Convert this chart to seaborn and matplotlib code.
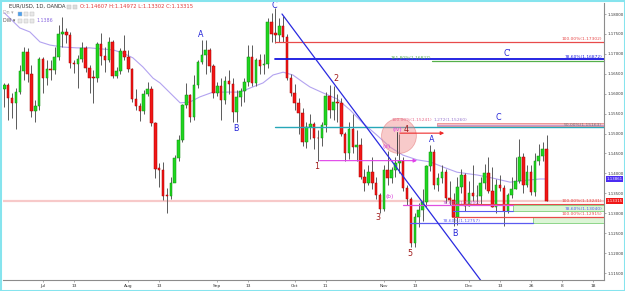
import numpy as np
import pandas as pd
import matplotlib
matplotlib.use("Agg")
import matplotlib.pyplot as plt
import matplotlib.transforms as mtransforms
from matplotlib.patches import Ellipse, Rectangle
import seaborn as sns

# ---------------- data (EUR/USD daily) ----------------
opens = [
    1.1612, 1.1622, 1.1589, 1.1577, 1.1604, 1.1657, 1.1705, 1.1649, 1.1556, 1.1569,
    1.1687, 1.1639, 1.1662, 1.1659, 1.1692, 1.1750, 1.1755, 1.1747, 1.1677, 1.1675,
    1.1687, 1.1715, 1.1664, 1.1641, 1.1639, 1.1725, 1.1695, 1.1685, 1.1730, 1.1644,
    1.1657, 1.1707, 1.1692, 1.1662, 1.1587, 1.1569, 1.1557, 1.1599, 1.1612, 1.1526,
    1.1413, 1.1408, 1.1346, 1.1343, 1.1376, 1.1439, 1.1484, 1.1572, 1.1597, 1.1541,
    1.1622, 1.1680, 1.1697, 1.1710, 1.1669, 1.1602, 1.1619, 1.1584, 1.1632, 1.1625,
    1.1554, 1.1592, 1.1607, 1.1630, 1.1692, 1.1627, 1.1685, 1.1672, 1.1675, 1.1780,
    1.1752, 1.1748, 1.1770, 1.1742, 1.1639, 1.1602, 1.1577, 1.1552, 1.1479, 1.1516,
    1.1524, 1.1490, 1.1488, 1.1521, 1.1594, 1.1560, 1.1580, 1.1576, 1.1500, 1.1451,
    1.1512, 1.1467, 1.1471, 1.1391, 1.1376, 1.1403, 1.1376, 1.1345, 1.1311, 1.1408,
    1.1388, 1.1408, 1.1426, 1.1432, 1.1363, 1.1336, 1.1225, 1.1290, 1.1308, 1.1328,
    1.1418, 1.1454, 1.1371, 1.1388, 1.1403, 1.1338, 1.1334, 1.1291, 1.1366, 1.1396,
    1.1319, 1.1352, 1.1343, 1.1344, 1.1375, 1.1402, 1.1356, 1.1316, 1.1370, 1.1363,
    1.1306, 1.1345, 1.1362, 1.1380, 1.1441, 1.1371, 1.1404, 1.1353, 1.1430, 1.1443,
    1.14607]
highs = [
    1.1627, 1.1627, 1.1602, 1.1614, 1.1672, 1.1717, 1.1715, 1.1672, 1.1584, 1.1692,
    1.1692, 1.1685, 1.1685, 1.1717, 1.1772, 1.1792, 1.1765, 1.1755, 1.1685, 1.1697,
    1.1730, 1.1720, 1.1672, 1.1659, 1.1730, 1.1752, 1.1717, 1.1742, 1.1735, 1.1667,
    1.1715, 1.1747, 1.1710, 1.1665, 1.1612, 1.1577, 1.1609, 1.1629, 1.1619, 1.1530,
    1.1426, 1.1428, 1.1363, 1.1391, 1.1446, 1.1496, 1.1575, 1.1627, 1.1600, 1.1647,
    1.1685, 1.1735, 1.1735, 1.1715, 1.1675, 1.1630, 1.1639, 1.1645, 1.1659, 1.1640,
    1.1610, 1.1615, 1.1640, 1.1722, 1.1722, 1.1690, 1.1700, 1.1700, 1.1790, 1.1803,
    1.1815, 1.1790, 1.1795, 1.1750, 1.1650, 1.1625, 1.1590, 1.1565, 1.1530, 1.1550,
    1.1530, 1.1510, 1.1530, 1.1605, 1.1622, 1.1620, 1.1600, 1.1590, 1.1505, 1.1530,
    1.1550, 1.1510, 1.1490, 1.1410, 1.1420, 1.1440, 1.1390, 1.1350, 1.1420, 1.1455,
    1.1415, 1.1440, 1.1500, 1.1440, 1.1370, 1.1340, 1.1300, 1.1325, 1.1360, 1.1420,
    1.1472, 1.1460, 1.1400, 1.1420, 1.1410, 1.1380, 1.1350, 1.1390, 1.1410, 1.1400,
    1.1380, 1.1420, 1.1370, 1.1390, 1.1423, 1.1440, 1.1415, 1.1385, 1.1395, 1.1370,
    1.1352, 1.1390, 1.1440, 1.1486, 1.1450, 1.1420, 1.1420, 1.1450, 1.1475, 1.1480,
    1.14972]
lows = [
    1.1567, 1.1534, 1.1539, 1.1511, 1.1600, 1.1634, 1.1629, 1.1541, 1.1529, 1.1560,
    1.1602, 1.1622, 1.1634, 1.1650, 1.1685, 1.1717, 1.1727, 1.1665, 1.1652, 1.1614,
    1.1680, 1.1655, 1.1602, 1.1577, 1.1630, 1.1672, 1.1654, 1.1680, 1.1640, 1.1639,
    1.1650, 1.1685, 1.1655, 1.1580, 1.1559, 1.1531, 1.1550, 1.1595, 1.1520, 1.1388,
    1.1366, 1.1333, 1.1301, 1.1335, 1.1396, 1.1432, 1.1480, 1.1565, 1.1529, 1.1535,
    1.1615, 1.1675, 1.1650, 1.1655, 1.1590, 1.1595, 1.1534, 1.1575, 1.1600, 1.1530,
    1.1529, 1.1570, 1.1580, 1.1620, 1.1620, 1.1620, 1.1650, 1.1650, 1.1665, 1.1730,
    1.1727, 1.1730, 1.1730, 1.1635, 1.1595, 1.1560, 1.1500, 1.1470, 1.1463, 1.1487,
    1.1460, 1.1432, 1.1470, 1.1505, 1.1540, 1.1535, 1.1530, 1.1495, 1.1430, 1.1435,
    1.1450, 1.1430, 1.1385, 1.1355, 1.1370, 1.1360, 1.1335, 1.1300, 1.1305, 1.1370,
    1.1375, 1.1390, 1.1400, 1.1355, 1.1320, 1.1215, 1.1215, 1.1265, 1.1280, 1.1315,
    1.1405, 1.1360, 1.1355, 1.1375, 1.1325, 1.1320, 1.1267, 1.1270, 1.1350, 1.1305,
    1.1317, 1.1330, 1.1320, 1.1320, 1.1360, 1.1350, 1.1316, 1.1300, 1.1355, 1.1269,
    1.1300, 1.1338, 1.1360, 1.1375, 1.1350, 1.1365, 1.1347, 1.1343, 1.1420, 1.1430,
    1.13302]
closes = [
    1.1622, 1.1589, 1.1577, 1.1604, 1.1657, 1.1705, 1.1649, 1.1556, 1.1569, 1.1687,
    1.1639, 1.1662, 1.1659, 1.1692, 1.1750, 1.1755, 1.1747, 1.1677, 1.1675, 1.1687,
    1.1715, 1.1664, 1.1639, 1.1639, 1.1725, 1.1695, 1.1685, 1.1730, 1.1644, 1.1657,
    1.1707, 1.1692, 1.1662, 1.1587, 1.1569, 1.1557, 1.1599, 1.1612, 1.1526, 1.1411,
    1.1408, 1.1343, 1.1343, 1.1376, 1.1439, 1.1484, 1.1572, 1.1597, 1.1541, 1.1622,
    1.1680, 1.1697, 1.1710, 1.1669, 1.1602, 1.1619, 1.1584, 1.1632, 1.1625, 1.1554,
    1.1592, 1.1607, 1.1630, 1.1692, 1.1627, 1.1685, 1.1669, 1.1675, 1.1780, 1.1750,
    1.1748, 1.1770, 1.1742, 1.1639, 1.1602, 1.1577, 1.1552, 1.1479, 1.1516, 1.1524,
    1.1490, 1.1488, 1.1521, 1.1594, 1.1560, 1.1580, 1.1576, 1.1500, 1.1451, 1.1512,
    1.1467, 1.1471, 1.1391, 1.1376, 1.1403, 1.1376, 1.1345, 1.1311, 1.1408, 1.1388,
    1.1408, 1.1426, 1.1432, 1.1363, 1.1336, 1.1225, 1.1290, 1.1308, 1.1328, 1.1418,
    1.1454, 1.1371, 1.1388, 1.1403, 1.1338, 1.1334, 1.1291, 1.1366, 1.1396, 1.1319,
    1.1352, 1.1343, 1.1344, 1.1375, 1.1402, 1.1356, 1.1316, 1.1370, 1.1363, 1.1306,
    1.1345, 1.1362, 1.1380, 1.1441, 1.1371, 1.1404, 1.1353, 1.1430, 1.1443, 1.1461,
    1.13315]

# moving average line: bar index, value
ma_idx = [0, 4, 6.6, 9.2, 11.8, 15.2, 18.8, 22.1, 25.5, 28.1, 30.6, 33.2, 35.8, 38.4,
          40.2, 42.8, 45.4, 47.9, 50.5, 53.9, 57.5, 60.9, 63.4, 66.8, 69.4, 72.0,
          74.5, 77.1, 78.9, 82.3, 85.9, 89.3, 92.6, 96.2, 99.6, 102.9, 106.6, 109.9,
          113.3, 116.9, 122.1, 126.2, 130.6, 135.0, 138.3, 140]
ma_val = [1.1803, 1.1765, 1.1755, 1.1730, 1.1722, 1.1717, 1.1715, 1.1715, 1.1712,
          1.1710, 1.1702, 1.1690, 1.1667, 1.1639, 1.1627, 1.1602, 1.1577, 1.1579,
          1.1592, 1.1604, 1.1604, 1.1604, 1.1614, 1.1627, 1.1647, 1.1654, 1.1647,
          1.1629, 1.1617, 1.1602, 1.1587, 1.1559, 1.1526, 1.1496, 1.1466, 1.1446,
          1.1434, 1.1429, 1.1416, 1.1403, 1.1396, 1.1388, 1.1378, 1.1383, 1.1386,
          1.1386]

# axis ticks
price_ticks = [1.115, 1.12, 1.125, 1.13, 1.135, 1.14, 1.145, 1.15, 1.155, 1.16,
               1.165, 1.17, 1.175, 1.18]
date_tick_idx = [10, 18, 32, 40, 55, 63, 75, 83, 98, 106, 120, 128, 136, 144, 152]
date_tick_lbl = ["Jul", "13", "Aug", "13", "Sep", "13", "Oct", "11", "Nov", "13",
                 "Dec", "13", "26", "8", "18"]

# drawing annotations (fib levels etc.): price, start bar, end bar
fib_price = [1.17302, 1.16872, 1.16827, 1.15163, 1.13241, 1.13200, 1.13060,
             1.12915, 1.12757]
fib_start = [69.9, 69.9, 110.4, 69.9, 115.6, 103.0, 115.9, 115.6, 104.8]
fib_end = [156, 156, 156, 156, 156, 131.4, 131.4, 156, 136.5]
fib_text = ["100.00%(1.17302)", "78.60%(1.16872)", "161.80%(1.16827)",
            "50.00%(1.15163)", "100.00%(1.13241)", "78.60%(1.13200)",
            "78.60%(1.13040)", "100.00%(1.12915)", "78.60%(1.12757)"]

wave_text = ["A", "B", "C", "1", "2", "3", "4", "5", "(a)", "(b)", "(iv)", "A", "B",
             "C", "C'"]
wave_idx = [50.7, 59.8, 69.6, 80.7, 85.6, 96.5, 103.8, 104.8, 98.6, 99.6, 101.6,
            110.4, 116.4, 127.5, 129.8]
wave_price = [1.17498, 1.15139, 1.18215, 1.14161, 1.16369, 1.12881, 1.15114,
              1.12002, 1.14663, 1.13408, 1.15114, 1.14863, 1.12504, 1.15415, 1.17021]

last_close = 1.13315
ma_last = 1.13861

# ---------------- style ----------------
sns.set_theme(style="white")
plt.rcParams['font.family'] = ['DejaVu Sans']

GREEN, GREEN_E = "#1fd61f", "#0f8f0f"
RED, RED_E = "#f21616", "#a80000"
WICK = "#5a5a5a"
BLUE = "#2323d8"
DRED = "#a01a1a"
MAG = "#d93ad9"

W, H = 625, 291
fig = plt.figure(figsize=(W / 100, H / 100), dpi=100)
fig.patch.set_facecolor("white")
AX_R = 604
ax = fig.add_axes([3 / W, 11 / H, (AX_R - 3) / W, 277 / H])
ax.set_facecolor("white")

PPU = 3985.0  # pixels per price unit
BAR = 3.873   # pixels per bar
ax.set_xlim((3 - 4.3) / BAR, (AX_R - 4.3) / BAR)
ax.set_ylim(1.18 - 266 / PPU, 1.18 + 11 / PPU)
XR = (AX_R - 4.3) / BAR

df = pd.DataFrame(dict(i=np.arange(len(closes)), o=opens, h=highs, l=lows, c=closes))
up = df.c >= df.o
bot = np.minimum(df.o, df.c)
hgt = np.maximum((df.c - df.o).abs(), 0.00010)

# last price line
ax.axhline(last_close, color="#f7c9c9", lw=1.6, zorder=0.5)

# MA line via seaborn
ma = pd.DataFrame(dict(i=ma_idx, v=ma_val))
sns.lineplot(data=ma, x="i", y="v", ax=ax, color="#b3a3f0", lw=0.8, zorder=1)

ax.vlines(df.i, df.l, df.h, color=WICK, lw=0.7, zorder=2)
ax.bar(df.i[up], hgt[up], bottom=bot[up], width=0.66, color=GREEN,
       edgecolor=GREEN_E, linewidth=0.35, zorder=3)
ax.bar(df.i[~up], hgt[~up], bottom=bot[~up], width=0.66, color=RED,
       edgecolor=RED_E, linewidth=0.35, zorder=3)

# fib / level lines
fib_colors = ["#e84a4a", "#1515e0", "#55b04a", "#27a7b8", "#e84a4a", "#e050e0",
              "#5b5bf0", "#e84a4a", "#5b5bf0"]
fib_lw = [0.9, 1.3, 0.9, 1.0, 0.8, 0.9, 0.8, 0.9, 0.9]
for p, s, e, c, w in zip(fib_price, fib_start, fib_end, fib_colors, fib_lw):
    ax.plot([s, e], [p, p], color=c, lw=w, zorder=4)

# green boxes at the right
ax.add_patch(Rectangle((131.4, 1.13060), 25, 1.13200 - 1.13060, facecolor="#dcf5d6",
                       edgecolor="#7fd07a", lw=0.6, zorder=3.5))
ax.add_patch(Rectangle((136.5, 1.12757), 20, 1.12915 - 1.12757, facecolor="#dcf5d6",
                       edgecolor="#7fd07a", lw=0.6, zorder=3.5))
# pink band C
ax.add_patch(Rectangle((111.7, 1.15180), 45, 0.00080, facecolor="#f6c4c4",
                       edgecolor="#e87a7a", lw=0.5, zorder=3.5))
ax.plot([111.7, 156], [1.1522, 1.1522], color="#b98ad8", lw=0.5, zorder=3.6)

# trend line
ax.plot([71.7, 124.9], [1.1800, 1.1107], color="#2a2ae0", lw=0.9, zorder=4)

# circle
ax.add_patch(Ellipse((101.9, 1.1494), 9.0, 35 / PPU, facecolor="#f08a8a",
                     alpha=0.45, edgecolor="#e06060", lw=0.6, zorder=5))
# vertical dark line and red arrow
ax.plot([101.4, 101.4], [1.1446, 1.1504], color="#444444", lw=0.7, zorder=5)
ax.annotate("", xy=(114.3, 1.1501), xytext=(101.4, 1.1501),
            arrowprops=dict(arrowstyle="-|>", color="#ee2a2a", lw=0.8,
                            mutation_scale=5), zorder=5)
# magenta arrow
ax.annotate("", xy=(107.3, 1.1432), xytext=(80.7, 1.1432),
            arrowprops=dict(arrowstyle="-|>", color="#e040e8", lw=0.8,
                            mutation_scale=5), zorder=5)

# fib texts
fs_small = 3.2
ax.text(110.2, 1.16827 + 0.0001, fib_text[2], color="#55b04a", fontsize=fs_small,
        ha="right", va="bottom", zorder=6)
for k, col in [(0, "#e84a4a"), (1, "#1515e0"), (3, "#777777"), (4, "#e84a4a"),
               (6, "#5b5bf0"), (7, "#e84a4a")]:
    ax.text(XR - 0.5, fib_price[k] + 0.00008, fib_text[k], color=col,
            fontsize=fs_small, ha="right", va="bottom", zorder=6)
ax.text(110.5, 1.1529, "100.00%(1.15241)", color="#e86a8a", fontsize=fs_small,
        ha="right", va="bottom", zorder=6)
ax.text(110.7, 1.1529, "1.272(1.15260)", color="#9a7ad0", fontsize=fs_small,
        ha="left", va="bottom", zorder=6)
ax.text(118.0, fib_price[5] + 0.00005, fib_text[5], color="#c050d0",
        fontsize=fs_small, ha="center", va="bottom", zorder=6)
ax.text(118.0, fib_price[8] + 0.00005, fib_text[8], color="#5b5bf0",
        fontsize=fs_small, ha="center", va="bottom", zorder=6)

# wave labels
for t, i, p in zip(wave_text, wave_idx, wave_price):
    if t in ("1", "2", "3", "4", "5"):
        c = DRED
    elif t.startswith("("):
        c = MAG
    else:
        c = BLUE
    fs = 4.2 if t.startswith("(") else 5.8
    ax.text(i, p, t, color=c, fontsize=fs, ha="center", va="center", zorder=7)

# axes cosmetics
ax.grid(False)
ax.set_xlabel("")
ax.set_ylabel("")
for s in ["left", "top"]:
    ax.spines[s].set_visible(False)
for s in ["right", "bottom"]:
    ax.spines[s].set_color("#8c8c8c")
    ax.spines[s].set_linewidth(0.8)
ax.yaxis.tick_right()
ax.set_yticks(price_ticks)
ax.set_yticklabels([f"{t:.5f}" for t in price_ticks], fontsize=2.8, color="#333333")
ax.set_xticks(date_tick_idx)
ax.set_xticklabels(date_tick_lbl, fontsize=3.2, color="#333333")
ax.tick_params(axis="y", length=1.5, width=0.5, color="#8c8c8c", pad=0.8,
               left=False, right=True)
ax.tick_params(axis="x", length=1.5, width=0.5, color="#8c8c8c", pad=1.2,
               bottom=True)

# price tags on the axis
tr = mtransforms.blended_transform_factory(ax.transAxes, ax.transData)
ax.text(1.004, ma_last, f"{ma_last:.5f}", transform=tr, color="white", fontsize=2.8,
        ha="left", va="center", zorder=10, clip_on=False,
        bbox=dict(facecolor="#4b2cf2", edgecolor="none", pad=0.6))
ax.text(1.004, last_close, f"{last_close:.5f}", transform=tr, color="white",
        fontsize=2.8, ha="left", va="center", zorder=10, clip_on=False,
        bbox=dict(facecolor="#f01818", edgecolor="none", pad=0.6))

# header / legend
def ftxt(x, y, s, **kw):
    fig.text(x / W, 1 - y / H, s, va="center", ha="left", **kw)

ftxt(9, 6, "EUR/USD, 1D, OANDA", fontsize=3.8, color="#333333")
for xx in (67, 73):
    fig.patches.append(Rectangle((xx / W, 1 - 8.5 / H), 4 / W, 4 / H,
                                 transform=fig.transFigure, facecolor="#dddddd",
                                 edgecolor="#bbbbbb", lw=0.3))
ftxt(80, 6, "O:1.14607 H:1.14972 L:1.13302 C:1.13315", fontsize=3.8, color="#e23a3a")
ftxt(3, 13, "Dn \u25be", fontsize=3.4, color="#aaaaaa")
ftxt(3, 20, "DW \u25be", fontsize=3.4, color="#555555")
for k, xx in enumerate((18, 24, 30)):
    fig.patches.append(Rectangle((xx / W, 1 - 15.5 / H), 4 / W, 4 / H,
                                 transform=fig.transFigure,
                                 facecolor="#4aa0f0" if k == 0 else "#e8e8e8",
                                 edgecolor="#bbbbbb", lw=0.3))
    fig.patches.append(Rectangle((xx / W, 1 - 22.5 / H), 4 / W, 4 / H,
                                 transform=fig.transFigure, facecolor="#e8e8e8",
                                 edgecolor="#bbbbbb", lw=0.3))
ftxt(36, 20, "1.1386", fontsize=3.4, color="#8a6ae0")

# cyan frame
fig.patches.append(Rectangle((0, 0), 1, 1, transform=fig.transFigure, fill=False,
                             edgecolor="#86e4ee", lw=2.2))

fig.savefig("out.png", dpi=100, facecolor="white")
